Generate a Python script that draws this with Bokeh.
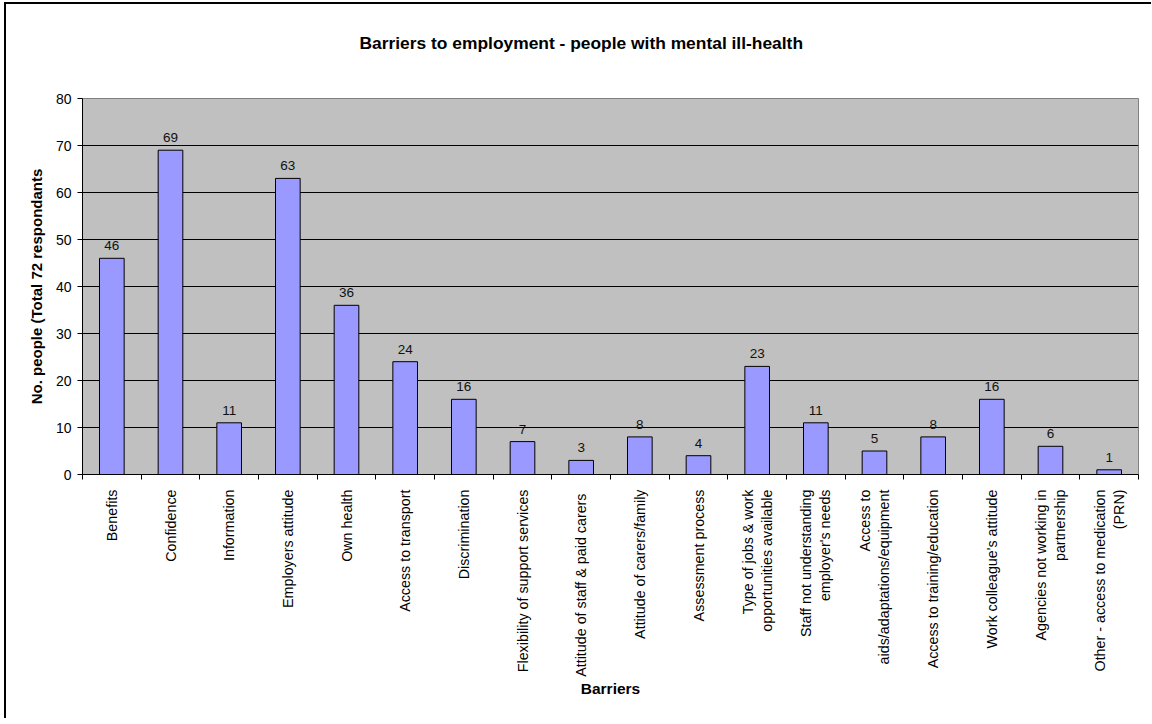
import math
from bokeh.plotting import figure
from bokeh.models import ColumnDataSource, FixedTicker, Range1d, Title
from bokeh.core.properties import value
from bokeh.embed import file_html
from bokeh.resources import INLINE

categories = [
    "Benefits", "Confidence", "Information", "Employers attitude", "Own health",
    "Access to transport", "Discrimination", "Flexibility of support services",
    "Attitude of staff  & paid carers", "Attitude of carers/family",
    "Assessment process", "Type of jobs & work\nopportunities available",
    "Staff not understanding\nemployer's needs", "Access to\naids/adaptations/equipment",
    "Access to training/education", "Work colleague's attitude",
    "Agencies not working in\npartnership", "Other - access to medication\n(PRN)",
]
counts = [46, 69, 11, 63, 36, 24, 16, 7, 3, 8, 4, 23, 11, 5, 8, 16, 6, 1]
y_ticks = [0, 10, 20, 30, 40, 50, 60, 70, 80]
title_text = "Barriers to employment - people with mental ill-health"

n = len(categories)
xpos = [i + 0.5 for i in range(n)]
src = ColumnDataSource(dict(x=xpos, top=counts, label=[str(c) for c in counts]))

FONT = "Liberation Sans"

p = figure(width=1145, height=714, frame_width=1056, frame_height=376,
           x_range=Range1d(0, n), y_range=Range1d(0, 80),
           output_backend="svg", toolbar_location=None, tools="",
           min_border_left=76, min_border_right=13, min_border_top=94, min_border_bottom=244)

p.styles = {"border-left": "2px solid #000", "border-top": "2px solid #000",
            "margin-left": "4px", "margin-top": "2px"}

# spacer between title and plot area
p.add_layout(Title(text=" ", text_font=FONT, text_font_size="17px", standoff=25), "above")

p.title.text = title_text
p.title.align = "left"
p.title.offset = 277
p.title.vertical_align = "bottom"
p.title.standoff = 0
p.title.text_font = FONT
p.title.text_font_size = "17.4px"
p.title.text_font_style = "bold"
p.title.text_color = "black"

p.background_fill_color = "#C0C0C0"
p.border_fill_color = "white"
p.outline_line_color = "#808080"
p.outline_line_width = 1

p.vbar(x="x", top="top", width=0.42, bottom=0, source=src,
       fill_color="#9999FF", line_color="black", line_width=1)

p.text(x="x", y="top", text="label", source=src, text_align="center",
       text_baseline="bottom", y_offset=-8, text_font_size="13.5px",
       text_font=value(FONT), text_color="#111111")

# axes
xa = p.xaxis[0]
xa.ticker = FixedTicker(ticks=xpos, minor_ticks=list(range(n + 1)))
xa.major_label_overrides = {x: c for x, c in zip(xpos, categories)}
xa.major_label_orientation = math.pi / 2
xa.major_tick_line_color = None
xa.major_tick_in = 0
xa.major_tick_out = 0
xa.minor_tick_line_color = "black"
xa.minor_tick_in = 0
xa.minor_tick_out = 5
xa.axis_line_color = "black"
xa.major_label_text_font = FONT
xa.major_label_text_font_size = "14.3px"
xa.major_label_text_color = "black"
xa.major_label_standoff = 10
xa.axis_label = "Barriers"
xa.axis_label_text_font = FONT
xa.axis_label_text_font_size = "15.5px"
xa.axis_label_text_font_style = "bold"
xa.axis_label_text_color = "black"
xa.axis_label_standoff = 0

ya = p.yaxis[0]
ya.ticker = FixedTicker(ticks=y_ticks)
ya.minor_tick_line_color = None
ya.major_tick_in = 0
ya.major_tick_out = 5
ya.axis_line_color = "black"
ya.major_label_text_font = FONT
ya.major_label_text_font_size = "14px"
ya.major_label_text_color = "black"
ya.major_label_standoff = 6
ya.axis_label = "No. people (Total 72 respondants"
ya.axis_label_text_font = FONT
ya.axis_label_text_font_size = "15px"
ya.axis_label_text_font_style = "bold"
ya.axis_label_text_color = "black"
ya.axis_label_standoff = 8

p.xgrid.visible = False
p.ygrid.ticker = FixedTicker(ticks=y_ticks[1:-1])
p.ygrid.grid_line_color = "black"
p.ygrid.grid_line_width = 1

open("out.html", "w").write(file_html(p, INLINE))
